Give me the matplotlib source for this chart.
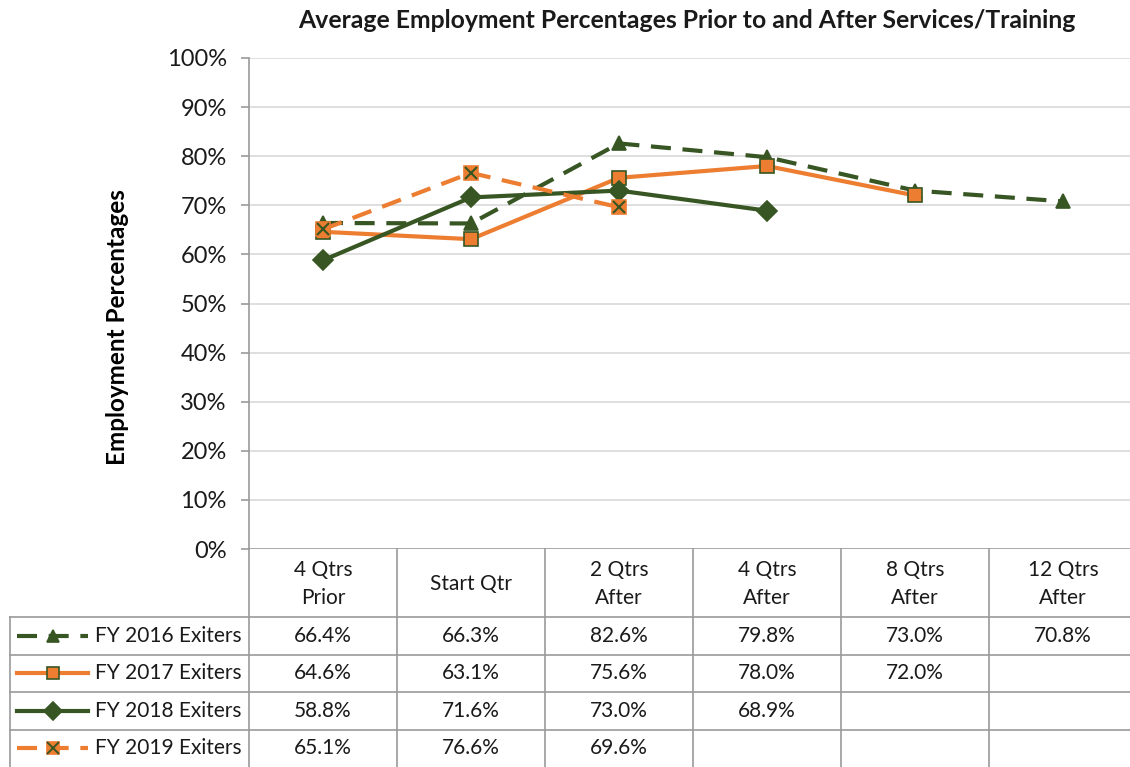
import numpy as np
import matplotlib
matplotlib.use("Agg")
import matplotlib.pyplot as plt

plt.rcParams['font.family'] = ['Lato', 'DejaVu Sans']

# data
categories = ["4 Qtrs\nPrior", "Start Qtr", "2 Qtrs\nAfter", "4 Qtrs\nAfter",
              "8 Qtrs\nAfter", "12 Qtrs\nAfter"]
fy2016 = [66.4, 66.3, 82.6, 79.8, 73.0, 70.8]
fy2017 = [64.6, 63.1, 75.6, 78.0, 72.0]
fy2018 = [58.8, 71.6, 73.0, 68.9]
fy2019 = [65.1, 76.6, 69.6]
series_names = ["FY 2016 Exiters", "FY 2017 Exiters", "FY 2018 Exiters", "FY 2019 Exiters"]
yticks = list(range(0, 101, 10))

GREEN = "#375623"
ORANGE = "#ED7D31"
GRID = "#D9D9D9"
BORDER = "#9A9A9A"
TXT = "#1a1a1a"
DASH = (0, (4.8, 2.8))

W, H = 1130, 767
fig = plt.figure(figsize=(W / 100, H / 100), dpi=100)

# plot area in pixels
px_left, px_right, px_top, px_bottom = 249, 1137, 58, 549
ax = fig.add_axes([px_left / W, (H - px_bottom) / H,
                   (px_right - px_left) / W, (px_bottom - px_top) / H])
ax.set_xlim(-0.5, len(categories) - 0.5)
ax.set_ylim(0, 100)
ax.set_yticks(yticks)
ax.set_yticklabels([f"{t}%" for t in yticks], fontsize=17, color=TXT)
ax.set_xticks([])
for s in ["top", "right", "bottom"]:
    ax.spines[s].set_visible(False)
ax.spines["left"].set_color(BORDER)
ax.spines["left"].set_linewidth(1.2)
ax.tick_params(axis="y", length=6, width=1.2, color=BORDER, pad=10)
for t in yticks[1:]:
    ax.axhline(t, color=GRID, lw=1.2, zorder=0)
ax.axhline(0, color=BORDER, lw=1.2, zorder=1)

styles = [
    dict(color=GREEN, ls=DASH, marker="^", mfc=GREEN, mec=GREEN),
    dict(color=ORANGE, ls="-", marker="s", mfc=ORANGE, mec=GREEN),
    dict(color=GREEN, ls="-", marker="D", mfc=GREEN, mec=GREEN),
    dict(color=ORANGE, ls=DASH, marker="s", mfc=ORANGE, mec=ORANGE),
]
all_series = [fy2016, fy2017, fy2018, fy2019]
for vals, st in zip(all_series, styles):
    x = np.arange(len(vals))
    ax.plot(x, vals, lw=3, ms=10, mew=1.2, zorder=3, clip_on=False, **st)
# x cross on FY 2019 markers
ax.plot(np.arange(len(fy2019)), fy2019, ls="none", marker="x", ms=9, mew=1.5,
        color=GREEN, zorder=4)

ax.set_ylabel("Employment Percentages", fontsize=17.5, fontweight="bold")
ax.yaxis.set_label_coords((129 - px_left) / (px_right - px_left),
                          (px_bottom - 327) / (px_bottom - px_top))
fig.text(687 / W, 1 - 21 / H, "Average Employment Percentages Prior to and After Services/Training",
         ha="center", va="center", fontsize=17.8, fontweight="bold", color=TXT)

# data table below the plot
tab_left = 10
n = len(categories)
colw = (px_right - px_left) / n
xl = -0.5 - (px_left - tab_left) / colw
tax = fig.add_axes([tab_left / W, 0, (px_right - tab_left) / W, (H - px_bottom) / H])
tax.set_xlim(xl, n - 0.5)
tax.set_ylim(H, px_bottom)  # pixel rows measured from the top
tax.axis("off")

row_edges = [549, 617, 655, 692, 730, 767]
for i in range(n + 1):
    tax.plot([i - 0.5, i - 0.5], [row_edges[0], H], color=BORDER, lw=1.2, clip_on=False)
tax.plot([xl, xl], [row_edges[1], H], color=BORDER, lw=1.2, clip_on=False)
for y in row_edges[1:-1]:
    tax.plot([xl, n - 0.5], [y, y], color=BORDER, lw=1.2, clip_on=False)

for i, c in enumerate(categories):
    tax.text(i, (row_edges[0] + row_edges[1]) / 2 + 1, c, ha="center", va="center",
             fontsize=15, linespacing=1.5, color=TXT)

for r, (vals, st, name) in enumerate(zip(all_series, styles, series_names)):
    yc = (row_edges[r + 1] + row_edges[r + 2]) / 2
    x0 = xl + 7 / colw
    x1 = xl + 78 / colw
    xm = (x0 + x1) / 2
    tax.plot([x0, x1], [yc, yc], color=st["color"], ls=st["ls"], lw=3, clip_on=False)
    tax.plot([xm], [yc], ls="none", marker=st["marker"], mfc=st["mfc"], mec=st["mec"],
             ms=9, mew=1.2, clip_on=False)
    if r == 3:
        tax.plot([xm], [yc], ls="none", marker="x", ms=8, mew=1.4, color=GREEN, clip_on=False)
    tax.text(xl + 85 / colw, yc, name, ha="left", va="center", fontsize=15, color=TXT)
    for i, v in enumerate(vals):
        tax.text(i, yc, f"{v:.1f}%", ha="center", va="center", fontsize=15, color=TXT)

fig.savefig("out.png", dpi=100)
